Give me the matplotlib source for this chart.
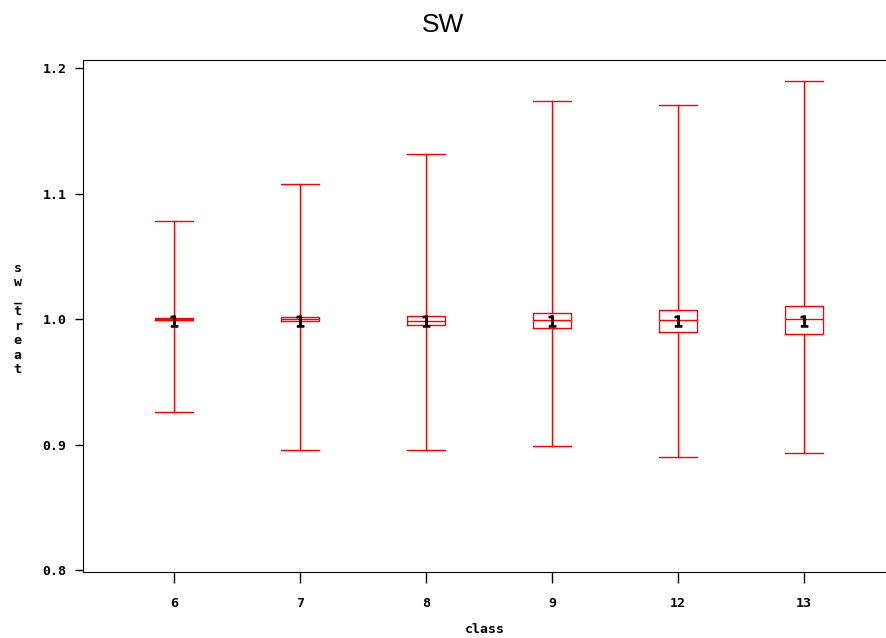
import matplotlib
matplotlib.use("Agg")
import matplotlib.pyplot as plt

# box statistics per class
classes = ["6", "7", "8", "9", "12", "13"]
whis_hi = [1.0784, 1.1080, 1.1312, 1.1736, 1.1704, 1.1896]
q3 = [1.0005, 1.0016, 1.0022, 1.0046, 1.0072, 1.0102]
med = [1.0000, 1.0000, 0.9987, 0.9990, 0.9990, 0.9998]
q1 = [0.9995, 0.9984, 0.9952, 0.9928, 0.9898, 0.9880]
whis_lo = [0.9256, 0.8960, 0.8960, 0.8992, 0.8904, 0.8936]
means = [0.9983, 0.9983, 0.9983, 0.9983, 0.9983, 0.9983]

yticks = [0.8, 0.9, 1.0, 1.1, 1.2]

stats = []
for i, c in enumerate(classes):
    stats.append(dict(label=c, whishi=whis_hi[i], q3=q3[i], med=med[i],
                      q1=q1[i], whislo=whis_lo[i], mean=means[i], fliers=[]))

mono = {"family": "DejaVu Sans Mono", "weight": "bold", "size": 9.5}

fig = plt.figure(figsize=(8.87, 6.38), dpi=100)
ax = fig.add_axes([0.0936, 0.1034, 0.9064, 0.8025])

red = dict(color="red", linewidth=1)
ax.bxp(stats, positions=range(len(classes)), widths=0.3, showmeans=True,
       boxprops=red, whiskerprops=red, capprops=red, medianprops=red,
       meanprops=dict(marker="$1$", markerfacecolor="black",
                      markeredgecolor="black", markersize=8),
       capwidths=0.3)

ax.set_xlim(-0.72, 5.66)
ax.set_ylim(0.7984, 1.2064)
ax.set_xticks(range(len(classes)))
ax.set_xticklabels(classes, fontdict=mono)
ax.set_yticks(yticks)
ax.set_yticklabels(["%.1f" % v for v in yticks], fontdict=mono)
ax.tick_params(axis="y", direction="out", length=6, width=1, pad=6)
ax.tick_params(axis="x", direction="out", length=8, width=1, pad=10)
ax.spines["right"].set_visible(False)

ax.set_xlabel("class", fontdict=mono, labelpad=9)
fig.text(0.02, 0.5, "s\nw\n_\nt\nr\ne\na\nt", ha="center", va="center",
         linespacing=1.15, **mono)
fig.suptitle("SW", family="Liberation Sans", fontsize=19, y=0.98)

fig.savefig("out.png", dpi=100)
